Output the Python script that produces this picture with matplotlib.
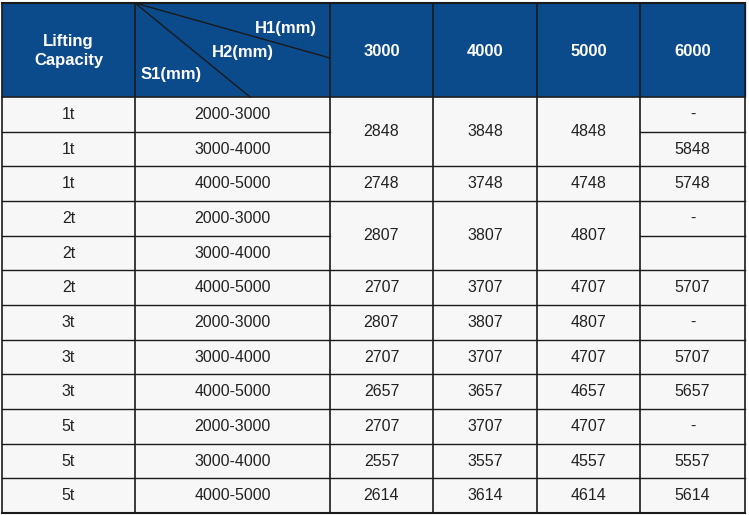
import matplotlib
matplotlib.use("Agg")
import matplotlib.pyplot as plt
from matplotlib.patches import Rectangle

capacity = ["1t","1t","1t","2t","2t","2t","3t","3t","3t","5t","5t","5t"]
s1_range = ["2000-3000","3000-4000","4000-5000","2000-3000","3000-4000","4000-5000",
            "2000-3000","3000-4000","4000-5000","2000-3000","3000-4000","4000-5000"]
h1_headers = ["3000","4000","5000","6000"]
h1_3000 = ["2848",None,"2748","2807",None,"2707","2807","2707","2657","2707","2557","2614"]
h1_4000 = ["3848",None,"3748","3807",None,"3707","3807","3707","3657","3707","3557","3614"]
h1_5000 = ["4848",None,"4748","4807",None,"4707","4807","4707","4657","4707","4557","4614"]
h1_6000 = ["-","5848","5748","-","","5707","-","5707","5657","-","5557","5614"]
merged_rows = [0, 3]  # rows merged with the next row in columns 3000-5000

W, H = 749, 515
fig = plt.figure(figsize=(W/100, H/100), dpi=100)
ax = fig.add_axes([0, 0, 1, 1])
ax.set_xlim(0, W); ax.set_ylim(H, 0); ax.axis("off")

xs = [2, 135, 330, 433, 537, 640, 745]
top, hb, bot = 3, 97, 513
n = len(capacity)
rh = (bot - hb) / n
blue = "#0b4a8b"
line = "#1a1a1a"
font = "Liberation Sans"
hfs, bfs = 12, 11.5

ax.add_patch(Rectangle((xs[0], top), xs[-1]-xs[0], hb-top, color=blue))
ax.add_patch(Rectangle((xs[0], hb), xs[-1]-xs[0], bot-hb, color="#f7f7f7"))

ax.text((xs[0]+xs[1])/2, 51, "Lifting\nCapacity", color="white", ha="center", va="center",
        fontsize=hfs, fontweight="bold", family=font, linespacing=1.3)
ax.plot([xs[1], xs[2]], [top, 58], color=line, lw=1)
ax.plot([xs[1], 250], [top, hb], color=line, lw=1)
ax.text(317, 29, "H1(mm)", color="white", ha="right", va="center", fontsize=hfs, fontweight="bold", family=font)
ax.text(274, 52, "H2(mm)", color="white", ha="right", va="center", fontsize=hfs, fontweight="bold", family=font)
ax.text(141, 74, "S1(mm)", color="white", ha="left", va="center", fontsize=hfs, fontweight="bold", family=font)
for i, h in enumerate(h1_headers):
    ax.text((xs[i+2]+xs[i+3])/2, 51, h, color="white", ha="center", va="center",
            fontsize=hfs, fontweight="bold", family=font)

cols = [h1_3000, h1_4000, h1_5000, h1_6000]
tc = "#222222"
for r in range(n):
    yc = hb + (r+0.5)*rh
    ax.text((xs[0]+xs[1])/2, yc, capacity[r], ha="center", va="center", fontsize=bfs, color=tc, family=font)
    ax.text((xs[1]+xs[2])/2, yc, s1_range[r], ha="center", va="center", fontsize=bfs, color=tc, family=font)
    for c, col in enumerate(cols):
        v = col[r]
        if v is None or v == "":
            continue
        y = yc + rh/2 if (c < 3 and r in merged_rows) else yc
        ax.text((xs[c+2]+xs[c+3])/2, y, v, ha="center", va="center", fontsize=bfs, color=tc, family=font)

for r in range(1, n):
    y = hb + r*rh
    if r-1 in merged_rows:
        ax.plot([xs[0], xs[2]], [y, y], color=line, lw=1)
        ax.plot([xs[5], xs[6]], [y, y], color=line, lw=1)
    else:
        ax.plot([xs[0], xs[6]], [y, y], color=line, lw=1)
ax.plot([xs[0], xs[6]], [hb, hb], color=line, lw=1.2)
ax.plot([xs[0], xs[6]], [bot, bot], color=line, lw=1.5)
ax.plot([xs[0], xs[6]], [top, top], color=line, lw=1.5)
for x in xs:
    ax.plot([x, x], [top, bot], color=line, lw=1.2)

fig.savefig("out.png", dpi=100)
